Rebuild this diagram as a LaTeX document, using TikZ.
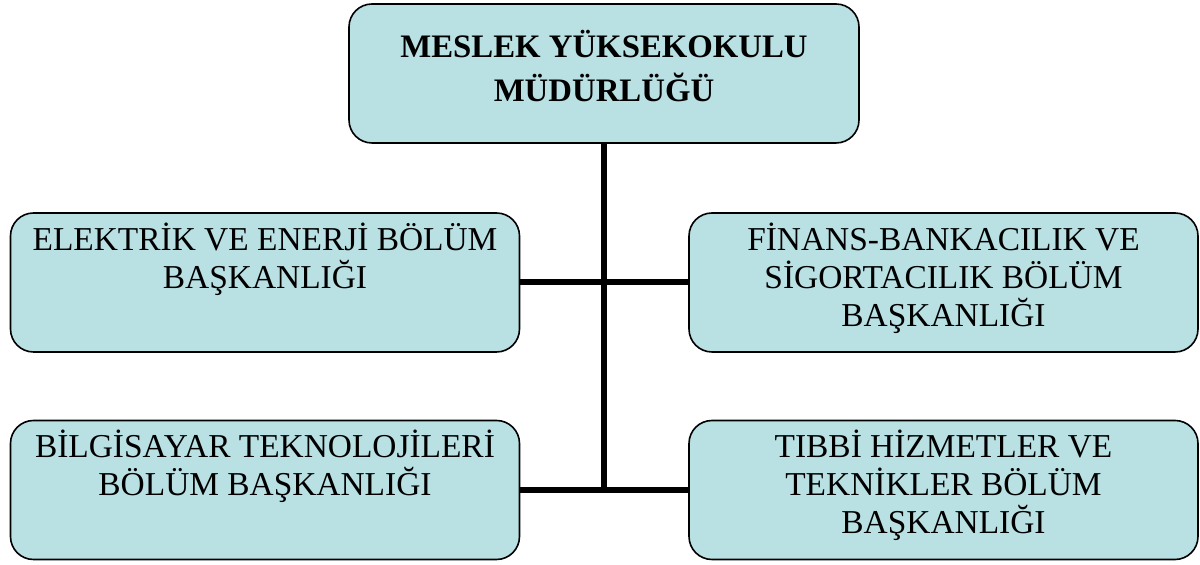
\documentclass[tikz,border=0pt]{standalone}
\usepackage{fontspec}
\setmainfont{Liberation Serif}
\definecolor{boxfill}{RGB}{185,224,227}
\tikzset{
  orgbox/.style={draw=black, line width=0.8pt, fill=boxfill, rounded corners=11.5pt,
    inner sep=0pt, align=center, minimum width=#1*0.5pt, minimum height=139*0.5pt},
  subtwo/.style={orgbox=509,
    font=\fontsize{16.7}{19}\selectfont, text height=37.75pt, text depth=31.75pt},
  subthree/.style={orgbox=509,
    font=\fontsize{16.7}{19}\selectfont, text height=56.75pt, text depth=12.75pt},
  head/.style={orgbox=510,
    font=\fontsize{16.4}{22}\selectfont\bfseries, text height=49pt, text depth=20.5pt},
  conn/.style={line width=3pt, black}
}
\begin{document}
\begin{tikzpicture}[x=0.5pt,y=-0.5pt]
\useasboundingbox (0,0) rectangle (1200,565);
\node[head] (top) at (604,73.5) {MESLEK YÜKSEKOKULU\\MÜDÜRLÜĞÜ};
\node[subtwo] (l1) at (265,282.5) {ELEKTRİK VE ENERJİ BÖLÜM\\BAŞKANLIĞI};
\node[subthree] (r1) at (943.5,282.5) {FİNANS-BANKACILIK VE\\SİGORTACILIK BÖLÜM\\BAŞKANLIĞI};
\node[subtwo] (l2) at (265,490) {BİLGİSAYAR TEKNOLOJİLERİ\\BÖLÜM BAŞKANLIĞI};
\node[subthree] (r2) at (943.5,490) {TIBBİ HİZMETLER VE\\TEKNİKLER BÖLÜM\\BAŞKANLIĞI};
\coordinate (j) at (top.south |- l2.east);
\draw[conn] (top.south) -- (j);
\draw[conn] (l1.east) -- (r1.west);
\draw[conn] (l2.east) -- (r2.west);
\end{tikzpicture}
\end{document}
